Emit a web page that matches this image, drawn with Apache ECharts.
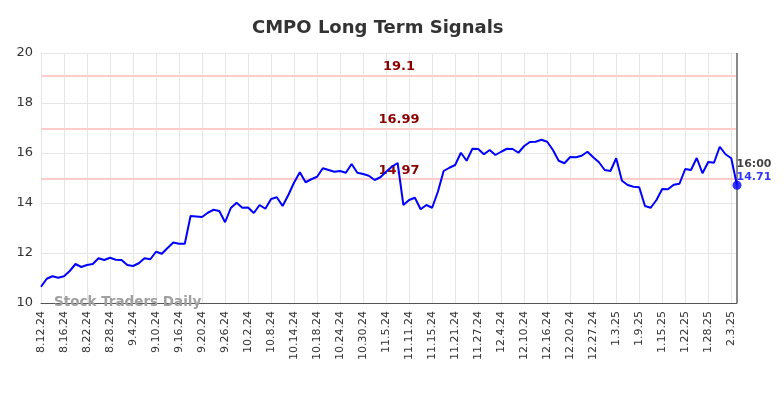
<!DOCTYPE html>
<html>
<head>
<meta charset="utf-8">
<title>CMPO Long Term Signals</title>
<script src="https://cdn.jsdelivr.net/npm/echarts@6/dist/echarts.min.js"></script>
<style>
  html, body { margin: 0; padding: 0; background: #fff; }
  #main { width: 784px; height: 398px; }
</style>
</head>
<body>
<div id="main"></div>
<script>
// trading days, 8.12.24 .. 2.4.25
var dates = [
    '8.12.24','8.13.24','8.14.24','8.15.24','8.16.24','8.19.24','8.20.24','8.21.24','8.22.24','8.23.24',
    '8.26.24','8.27.24','8.28.24','8.29.24','8.30.24','9.3.24','9.4.24','9.5.24','9.6.24','9.9.24',
    '9.10.24','9.11.24','9.12.24','9.13.24','9.16.24','9.17.24','9.18.24','9.19.24','9.20.24','9.23.24',
    '9.24.24','9.25.24','9.26.24','9.27.24','9.30.24','10.1.24','10.2.24','10.3.24','10.4.24','10.7.24',
    '10.8.24','10.9.24','10.10.24','10.11.24','10.14.24','10.15.24','10.16.24','10.17.24','10.18.24','10.21.24',
    '10.22.24','10.23.24','10.24.24','10.25.24','10.28.24','10.29.24','10.30.24','10.31.24','11.1.24','11.4.24',
    '11.5.24','11.6.24','11.7.24','11.8.24','11.11.24','11.12.24','11.13.24','11.14.24','11.15.24','11.18.24',
    '11.19.24','11.20.24','11.21.24','11.22.24','11.25.24','11.26.24','11.27.24','11.29.24','12.2.24','12.3.24',
    '12.4.24','12.5.24','12.6.24','12.9.24','12.10.24','12.11.24','12.12.24','12.13.24','12.16.24','12.17.24',
    '12.18.24','12.19.24','12.20.24','12.23.24','12.24.24','12.26.24','12.27.24','12.30.24','12.31.24','1.2.25',
    '1.3.25','1.6.25','1.7.25','1.8.25','1.9.25','1.10.25','1.13.25','1.14.25','1.15.25','1.16.25',
    '1.17.25','1.21.25','1.22.25','1.23.25','1.24.25','1.27.25','1.28.25','1.29.25','1.30.25','1.31.25',
    '2.3.25','2.4.25'
];

var prices = [
    10.65, 10.97, 11.07, 11.01, 11.07, 11.28, 11.56, 11.44, 11.52, 11.56,
    11.79, 11.72, 11.81, 11.73, 11.72, 11.52, 11.48, 11.59, 11.79, 11.75,
    12.05, 11.97, 12.20, 12.42, 12.37, 12.37, 13.48, 13.46, 13.44, 13.61,
    13.73, 13.68, 13.23, 13.80, 14.01, 13.81, 13.82, 13.60, 13.92, 13.77,
    14.16, 14.23, 13.88, 14.32, 14.82, 15.23, 14.83, 14.95, 15.05, 15.39,
    15.32, 15.25, 15.28, 15.21, 15.56, 15.21, 15.16, 15.09, 14.92, 15.03,
    15.25, 15.45, 15.60, 13.92, 14.12, 14.21, 13.75, 13.92, 13.81, 14.45,
    15.28, 15.41, 15.52, 16.01, 15.69, 16.17, 16.16, 15.95, 16.12, 15.92,
    16.05, 16.17, 16.16, 16.01, 16.28, 16.44, 16.45, 16.53, 16.45, 16.12,
    15.69, 15.59, 15.84, 15.83, 15.89, 16.05, 15.83, 15.63, 15.32, 15.28,
    15.79, 14.89, 14.72, 14.65, 14.63, 13.88, 13.81, 14.12, 14.56, 14.55,
    14.73, 14.77, 15.36, 15.32, 15.80, 15.19, 15.64, 15.61, 16.25, 15.95,
    15.79, 14.71
];

var signalLevels = [19.1, 16.99, 14.97];
var yTicks = [10, 12, 14, 16, 18, 20];
var lastTime = '16:00';

var lastIdx = prices.length - 1;
var lastVal = prices[lastIdx];

var myChart = echarts.init(document.getElementById('main'));

var option = {
    animation: false,
    title: {
        text: 'CMPO Long Term Signals',
        left: 247,
        top: 14,
        textStyle: {
            fontFamily: 'DejaVu Sans',
            fontSize: 18,
            fontWeight: 'bold',
            color: '#333'
        }
    },
    grid: {
        left: 41,
        right: 47,
        top: 53,
        bottom: 95
    },
    xAxis: {
        type: 'category',
        data: dates,
        boundaryGap: false,
        axisLine: { lineStyle: { color: '#555', width: 1 } },
        axisTick: { show: false },
        axisLabel: {
            interval: 3,
            rotate: 90,
            fontFamily: 'DejaVu Sans',
            fontSize: 11,
            color: '#333',
            margin: 8
        },
        splitLine: {
            show: true,
            interval: 3,
            lineStyle: { color: '#e6e6e6', width: 1 }
        }
    },
    yAxis: {
        type: 'value',
        min: yTicks[0],
        max: yTicks[yTicks.length - 1],
        interval: 2,
        axisLine: { show: false },
        axisTick: { show: false },
        axisLabel: {
            fontFamily: 'DejaVu Sans',
            fontSize: 13,
            color: '#333',
            margin: 8
        },
        splitLine: { lineStyle: { color: '#e6e6e6', width: 1 } }
    },
    graphic: [{
        type: 'text',
        left: 54,
        top: 295,
        z: 1,
        style: {
            text: 'Stock Traders Daily',
            font: 'bold 13.5px "DejaVu Sans"',
            fill: '#a0a0a0'
        }
    }],
    series: [{
        type: 'line',
        data: prices,
        showSymbol: false,
        symbol: 'none',
        lineStyle: { color: '#0000ff', width: 2 },
        itemStyle: { color: '#0000ff' },
        z: 3,
        markLine: {
            silent: true,
            symbol: 'none',
            z: 2,
            data: signalLevels.map(function (v) {
                return {
                    yAxis: v,
                    lineStyle: { color: '#ffcccc', width: 2, type: 'solid' },
                    label: {
                        show: true,
                        position: 'insideMiddleTop',
                        formatter: String(v),
                        fontFamily: 'DejaVu Sans',
                        fontSize: 13,
                        fontWeight: 'bold',
                        color: '#8b0000',
                        distance: 2,
                        offset: [10, 0]
                    }
                };
            }).concat([{
                xAxis: lastIdx,
                lineStyle: { color: '#888', width: 2, type: 'solid' },
                label: { show: false }
            }])
        }
    }, {
        type: 'scatter',
        data: [[lastIdx, lastVal]],
        symbol: 'circle',
        symbolSize: 9,
        itemStyle: { color: '#0000ff' },
        z: 4,
        label: {
            show: true,
            position: [4, -23],
            formatter: '{t|' + lastTime + '}\n{v|' + lastVal.toFixed(2) + '}',
            rich: {
                t: { fontFamily: 'DejaVu Sans', fontSize: 11, fontWeight: 'bold', color: '#111', lineHeight: 13 },
                v: { fontFamily: 'DejaVu Sans', fontSize: 11, fontWeight: 'bold', color: '#0000ff', lineHeight: 13 }
            }
        }
    }]
};

myChart.setOption(option);
</script>
</body>
</html>
